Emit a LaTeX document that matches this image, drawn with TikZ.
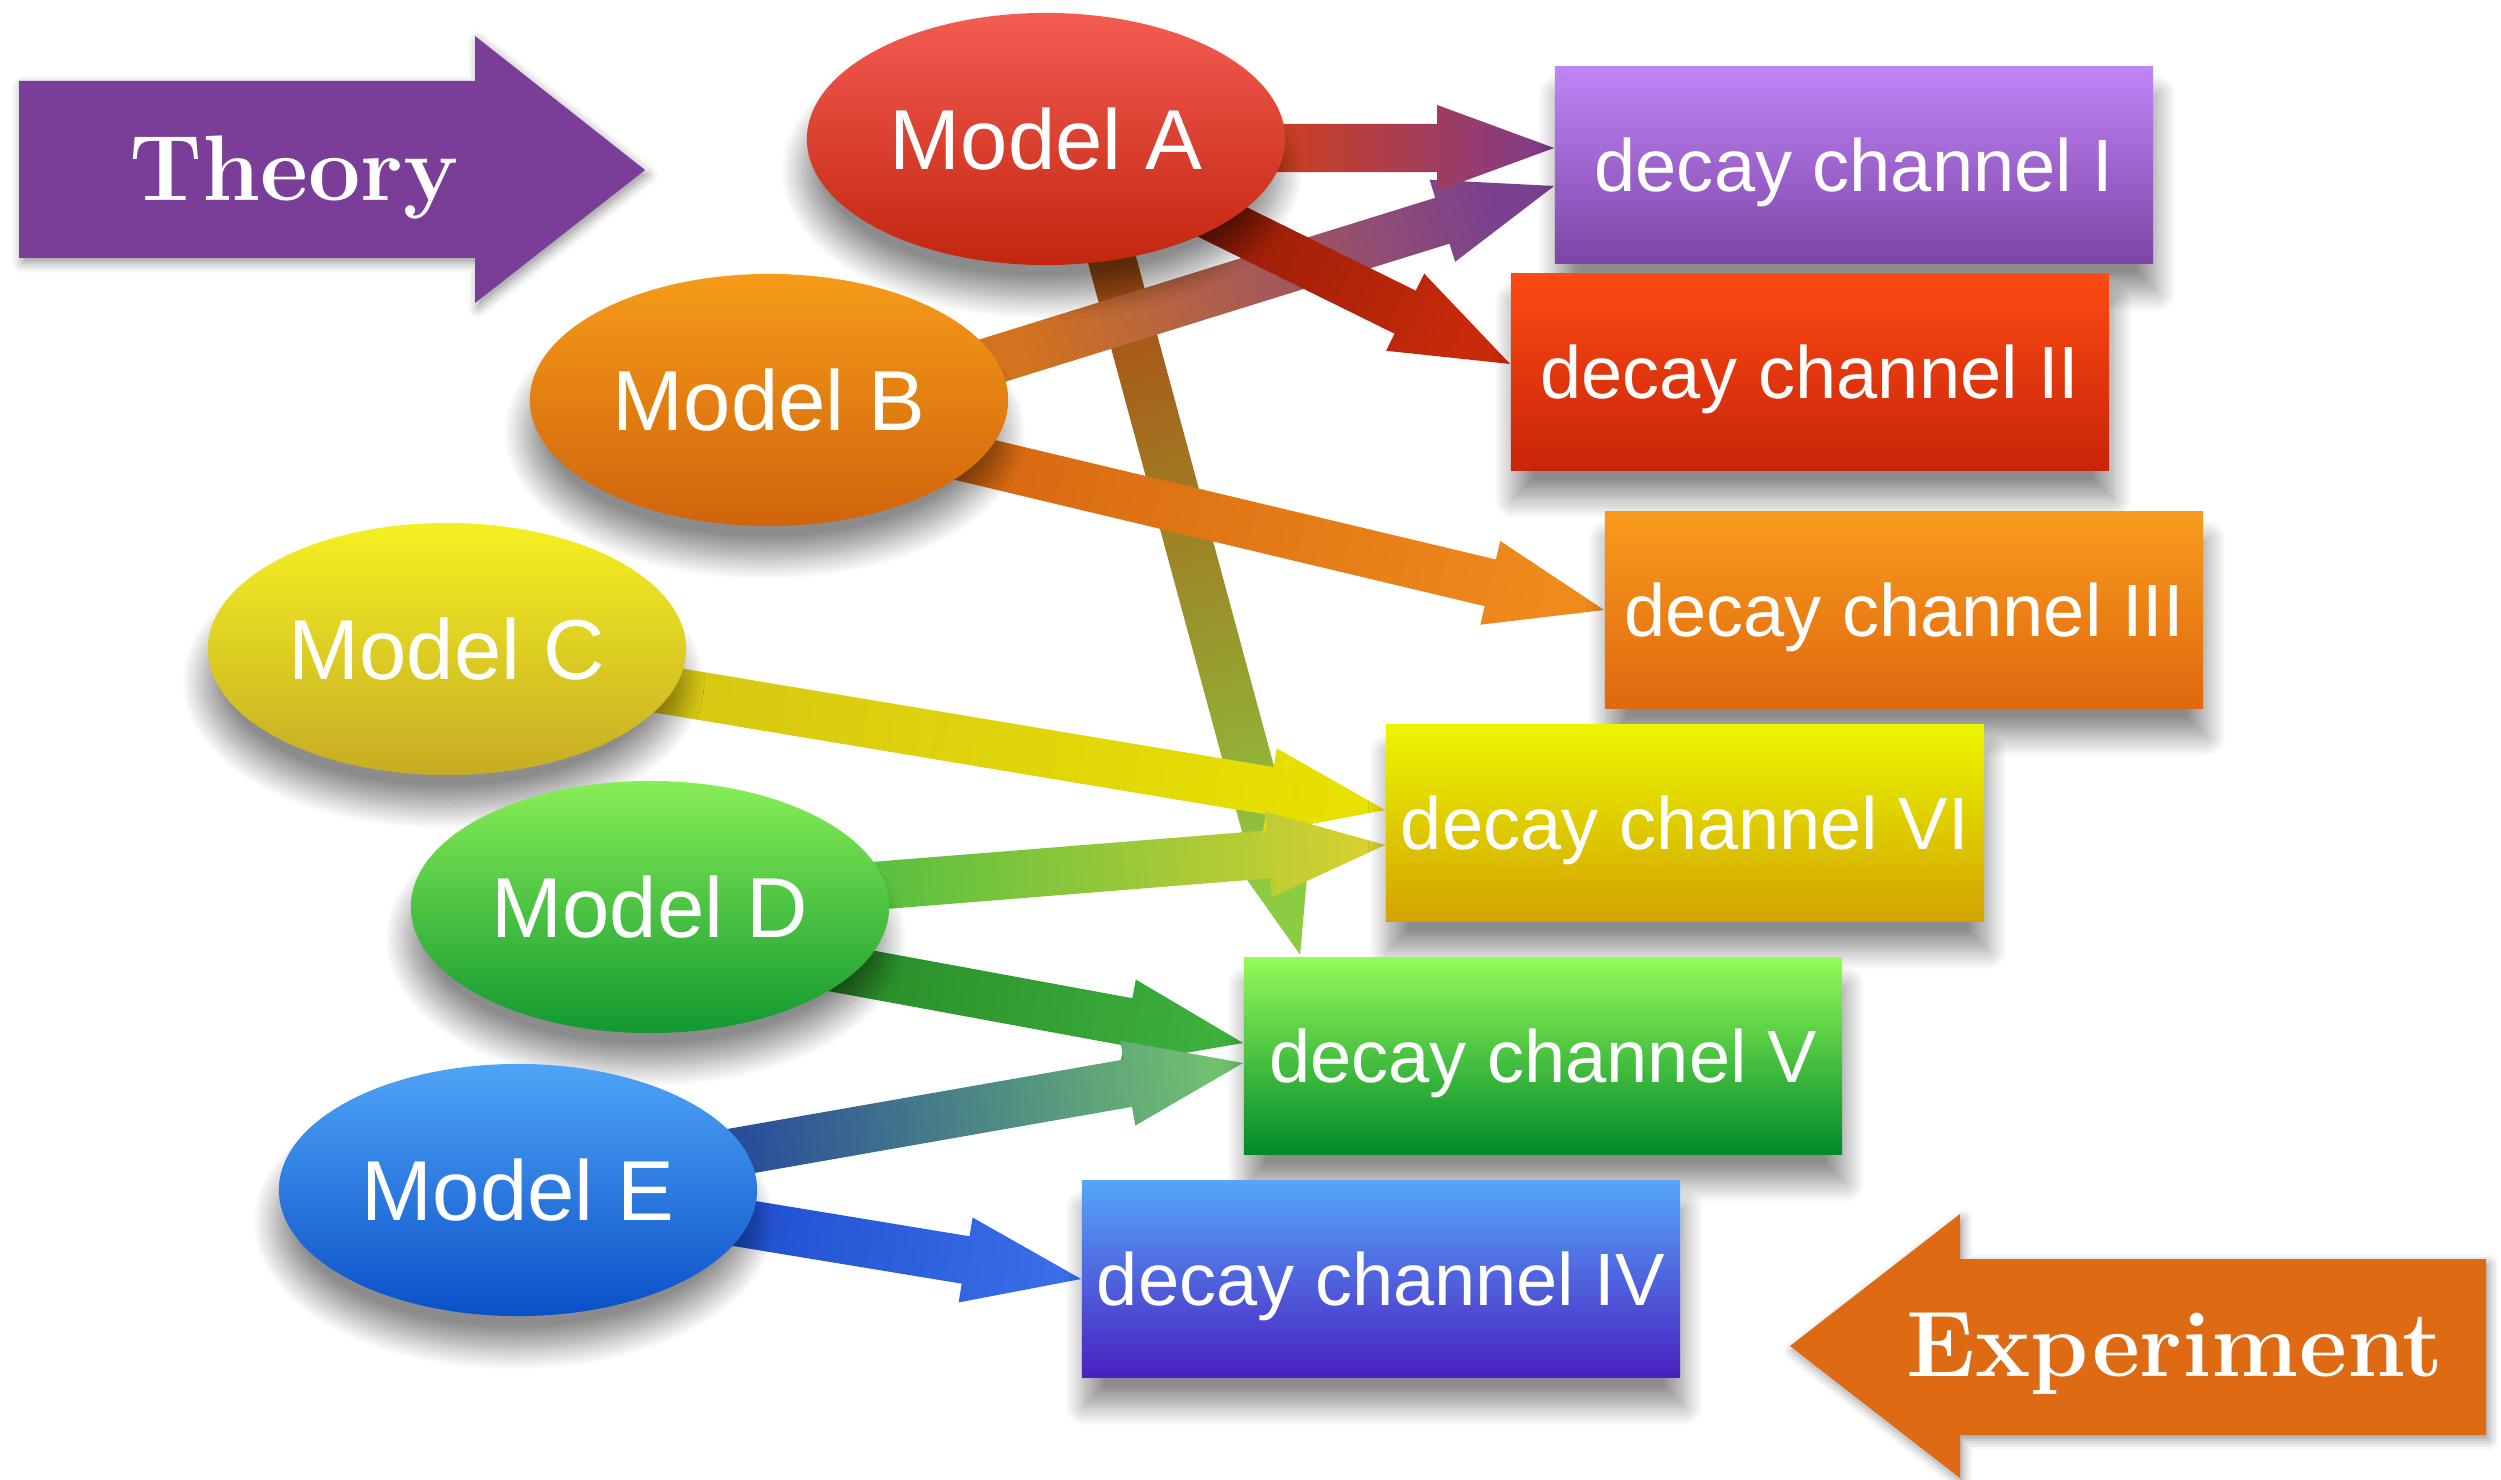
\documentclass[tikz,border=0pt]{standalone}
\usepackage{fontspec}
\newfontfamily\arialfont{Liberation Sans}
\usetikzlibrary{calc,shapes.geometric,shadows.blur,backgrounds}

% colours of the models, the channels and the two big arrows
\definecolor{theorypurple}{HTML}{7A3E98}
\definecolor{exporange}{HTML}{DE6B14}

% fat shaded arrow: start, tip, start colour, tip colour
\newcommand\fatarrow[4]{%
  \pgfmathanglebetweenpoints{\pgfpointanchor{#1}{center}}{\pgfpointanchor{#2}{center}}%
  \pgfmathsetmacro\shadeang{\pgfmathresult-90}%
  \coordinate (hb) at ($(#2)!1.17cm!(#1)$);
  \shade[bottom color=#3, top color=#4, shading angle=\shadeang]
    ($(#1)!.24cm!90:(#2)$) -- ($(hb)!.24cm!90:(#2)$) -- ($(hb)!.43cm!90:(#2)$)
    -- (#2) -- ($(hb)!.43cm!-90:(#2)$) -- ($(hb)!.24cm!-90:(#2)$)
    -- ($(#1)!.24cm!-90:(#2)$) -- cycle;
}

\tikzset{
  model/.style={ellipse, minimum width=4.78cm, minimum height=2.52cm, inner sep=0pt,
    text=white, font=\arialfont\fontsize{24.2}{29}\selectfont,
    blur shadow={shadow xshift=-.04cm, shadow yshift=-.32cm, shadow blur radius=.22cm,
      shadow blur steps=25, shadow opacity=45}},
  channel/.style={rectangle, minimum width=5.98cm, minimum height=1.97cm, inner sep=0pt,
    text=white, text depth=0pt, font=\arialfont\fontsize{21.06}{25}\selectfont,
    blur shadow={shadow xshift=.03cm, shadow yshift=-.28cm, shadow blur radius=.2cm,
      shadow blur steps=25, shadow opacity=45}},
  bigword/.style={text=white, anchor=base, font=\fontsize{26.5}{30}\selectfont\bfseries}
}

\begin{document}
\begin{tikzpicture}[x=0.01cm, y=-0.01cm]
  \useasboundingbox (0,0) rectangle (2501,1480);

  % theory and experiment
  \fill[theorypurple, blur shadow={shadow xshift=.03cm, shadow yshift=-.05cm, shadow blur radius=.1cm, shadow opacity=40}]
    (19,81) -- (475,81) -- (475,36) -- (645,170) -- (475,303) -- (475,258) -- (19,258) -- cycle;
  \fill[exporange, blur shadow={shadow xshift=.03cm, shadow yshift=-.05cm, shadow blur radius=.1cm, shadow opacity=40}]
    (2486,1259) -- (1960,1259) -- (1960,1214) -- (1790,1346) -- (1960,1478) -- (1960,1435) -- (2486,1435) -- cycle;
  \node[bigword] (theory) at (294,201) {Theory};
  \node[bigword] (experiment) at (2175,1376) {Experiment};

  % models
  \node[model, top color={rgb,255:red,244;green,92;blue,82}, bottom color={rgb,255:red,194;green,38;blue,15}] (mA) at (1046,139) {Model A};
  \node[model, top color={rgb,255:red,245;green,155;blue,24}, bottom color={rgb,255:red,208;green,100;blue,12}] (mB) at (769,400) {Model B};
  \node[model, top color={rgb,255:red,245;green,240;blue,34}, bottom color={rgb,255:red,198;green,172;blue,36}] (mC) at (447,649) {Model C};
  \node[model, top color={rgb,255:red,136;green,238;blue,86}, bottom color={rgb,255:red,18;green,152;blue,48}] (mD) at (650,907) {Model D};
  \node[model, top color={rgb,255:red,78;green,164;blue,246}, bottom color={rgb,255:red,10;green,80;blue,200}] (mE) at (518,1190) {Model E};

  % decay channels
  \node[channel, top color={rgb,255:red,192;green,132;blue,248}, bottom color={rgb,255:red,125;green,69;blue,165}] (chI) at (1854,165) {decay channel I};
  \node[channel, top color={rgb,255:red,252;green,74;blue,18}, bottom color={rgb,255:red,200;green,37;blue,10}] (chII) at (1810,372) {decay channel II};
  \node[channel, top color={rgb,255:red,248;green,155;blue,28}, bottom color={rgb,255:red,224;green,104;blue,15}] (chIII) at (1904,610) {decay channel III};
  \node[channel, top color={rgb,255:red,236;green,246;blue,0}, bottom color={rgb,255:red,210;green,163;blue,0}] (chVI) at (1685,823) {decay channel VI};
  \node[channel, top color={rgb,255:red,148;green,250;blue,88}, bottom color={rgb,255:red,0;green,138;blue,42}] (chV) at (1543,1056) {decay channel V};
  \node[channel, top color={rgb,255:red,85;green,166;blue,250}, bottom color={rgb,255:red,74;green,32;blue,192}] (chIV) at (1381,1279) {decay channel IV};

  % ends of the arrows
  \coordinate (sAI) at ($(mA.east)+(-20,9)$);
  \coordinate (tAI) at ($(chI.west)+(0,-17)$);
  \coordinate (sBI) at ($(mB.center)+(206,-34)$);
  \coordinate (tBI) at ($(chI.west)+(0,21)$);
  \coordinate (sAII) at ($(mA.center)+(150,70)$);
  \coordinate (tAII) at ($(chII.west)+(0,-8)$);
  \coordinate (sAV) at ($(mA.center)+(59,95)$);
  \coordinate (tAV) at ($(chV.north west)+(57,-2)$);
  \coordinate (sBIII) at ($(mB.center)+(185,55)$);
  \coordinate (tBIII) at (chIII.west);
  \coordinate (sCVI) at ($(mC.center)+(200,38)$);
  \coordinate (tCVI) at ($(chVI.west)+(0,-13)$);
  \coordinate (sDVI) at ($(mD.center)+(210,-20)$);
  \coordinate (tDVI) at ($(chVI.west)+(0,22)$);
  \coordinate (sDV) at ($(mD.center)+(180,60)$);
  \coordinate (tDV) at ($(chV.west)+(0,-13)$);
  \coordinate (sEV) at ($(mE.center)+(200,-35)$);
  \coordinate (tEV) at ($(chV.west)+(0,7)$);
  \coordinate (sEIV) at ($(mE.center)+(205,30)$);
  \coordinate (tEIV) at (chIV.west);

  \begin{pgfonlayer}{background}
    \fatarrow{sAV}{tAV}{{rgb,255:red,170;green,80;blue,20}}{{rgb,255:red,140;green,204;blue,64}}
    \fatarrow{sBIII}{tBIII}{{rgb,255:red,216;green,106;blue,18}}{{rgb,255:red,239;green,138;blue,28}}
    \fatarrow{sBI}{tBI}{{rgb,255:red,210;green,115;blue,30}}{{rgb,255:red,122;green,64;blue,144}}
    \fatarrow{sAII}{tAII}{{rgb,255:red,150;green,30;blue,8}}{{rgb,255:red,201;green,42;blue,10}}
    \fatarrow{sAI}{tAI}{{rgb,255:red,208;green,64;blue,26}}{{rgb,255:red,126;green,58;blue,142}}
    \fatarrow{sCVI}{tCVI}{{rgb,255:red,216;green,200;blue,20}}{{rgb,255:red,232;green,224;blue,0}}
    \fatarrow{sDVI}{tDVI}{{rgb,255:red,88;green,192;blue,64}}{{rgb,255:red,216;green,208;blue,48}}
    \fatarrow{sDV}{tDV}{{rgb,255:red,42;green,142;blue,42}}{{rgb,255:red,61;green,176;blue,61}}
    \fatarrow{sEV}{tEV}{{rgb,255:red,42;green,78;blue,154}}{{rgb,255:red,112;green,192;blue,112}}
    \fatarrow{sEIV}{tEIV}{{rgb,255:red,32;green,80;blue,208}}{{rgb,255:red,58;green,110;blue,232}}
  \end{pgfonlayer}
\end{tikzpicture}
\end{document}
